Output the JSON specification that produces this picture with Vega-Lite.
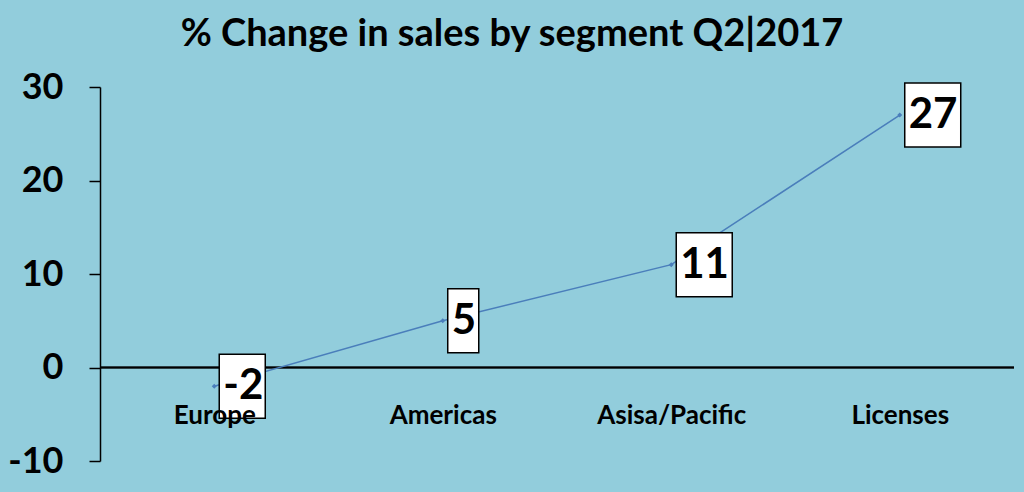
{
  "$schema": "https://vega.github.io/schema/vega-lite/v6.json",
  "autosize": "none",
  "padding": {"left": 100, "top": 87, "right": 10, "bottom": 31},
  "width": 914,
  "height": 374,
  "background": "#92CDDC",
  "config": {"view": {"stroke": null}, "font": "Lato"},
  "title": {
    "text": "% Change in sales by segment Q2|2017",
    "font": "Lato",
    "fontSize": 38,
    "fontWeight": "bold",
    "color": "#000000",
    "anchor": "middle",
    "frame": "group",
    "dx": -45,
    "offset": 15
  },
  "data": {
    "values": [
      {"segment": "Europe", "change": -2},
      {"segment": "Americas", "change": 5},
      {"segment": "Asisa/Pacific", "change": 11},
      {"segment": "Licenses", "change": 27}
    ]
  },
  "encoding": {
    "x": {
      "field": "segment",
      "type": "nominal",
      "sort": null,
      "scale": {"paddingInner": 0, "paddingOuter": 0},
      "axis": {
        "title": null,
        "orient": "bottom",
        "offset": -93.5,
        "domain": false,
        "ticks": false,
        "labelAngle": 0,
        "labelFont": "Lato",
        "labelFontSize": 26,
        "labelFontWeight": "bold",
        "labelColor": "#000000",
        "labelPadding": 35,
        "zindex": 1
      }
    },
    "y": {
      "field": "change",
      "type": "quantitative",
      "scale": {"domain": [-10, 30], "nice": false, "zero": false},
      "axis": {
        "title": null,
        "values": [-10, 0, 10, 20, 30],
        "labelExpr": "toString(datum.value)",
        "grid": false,
        "domainColor": "#000000",
        "domainWidth": 1.5,
        "tickColor": "#000000",
        "tickWidth": 1.5,
        "tickSize": 11,
        "labelFont": "Lato",
        "labelFontSize": 36,
        "labelFontWeight": "bold",
        "labelColor": "#000000",
        "labelPadding": 26
      }
    }
  },
  "layer": [
    {
      "mark": {"type": "rule", "color": "#000000", "strokeWidth": 1.5},
      "encoding": {"y": {"datum": 0}, "x": {"value": 0}, "x2": {"value": 914}}
    },
    {
      "mark": {"type": "line", "color": "#4A7EBB", "strokeWidth": 1.5}
    },
    {
      "mark": {"type": "point", "shape": "diamond", "filled": true, "size": 25, "color": "#4A7EBB", "opacity": 1}
    },
    {
      "mark": {"type": "point", "filled": true, "fill": "#FFFFFF", "stroke": "#000000", "strokeWidth": 1.5, "opacity": 1, "size": 4096},
      "encoding": {
        "shape": {
          "field": "segment",
          "type": "nominal",
          "legend": null,
          "scale": {
            "domain": ["Europe", "Americas", "Asisa/Pacific", "Licenses"],
            "range": [
              "M0.156,-1L1.594,-1L1.594,1L0.156,1Z",
              "M0.156,-1L1.125,-1L1.125,1L0.156,1Z",
              "M0.156,-1L1.906,-1L1.906,1L0.156,1Z",
              "M0.156,-1L1.906,-1L1.906,1L0.156,1Z"
            ]
          }
        }
      }
    },
    {
      "mark": {"type": "text", "align": "left", "baseline": "middle", "dx": 9, "font": "Lato", "fontSize": 42, "fontWeight": "bold", "color": "#000000"},
      "encoding": {"text": {"field": "change", "type": "nominal"}}
    }
  ]
}
